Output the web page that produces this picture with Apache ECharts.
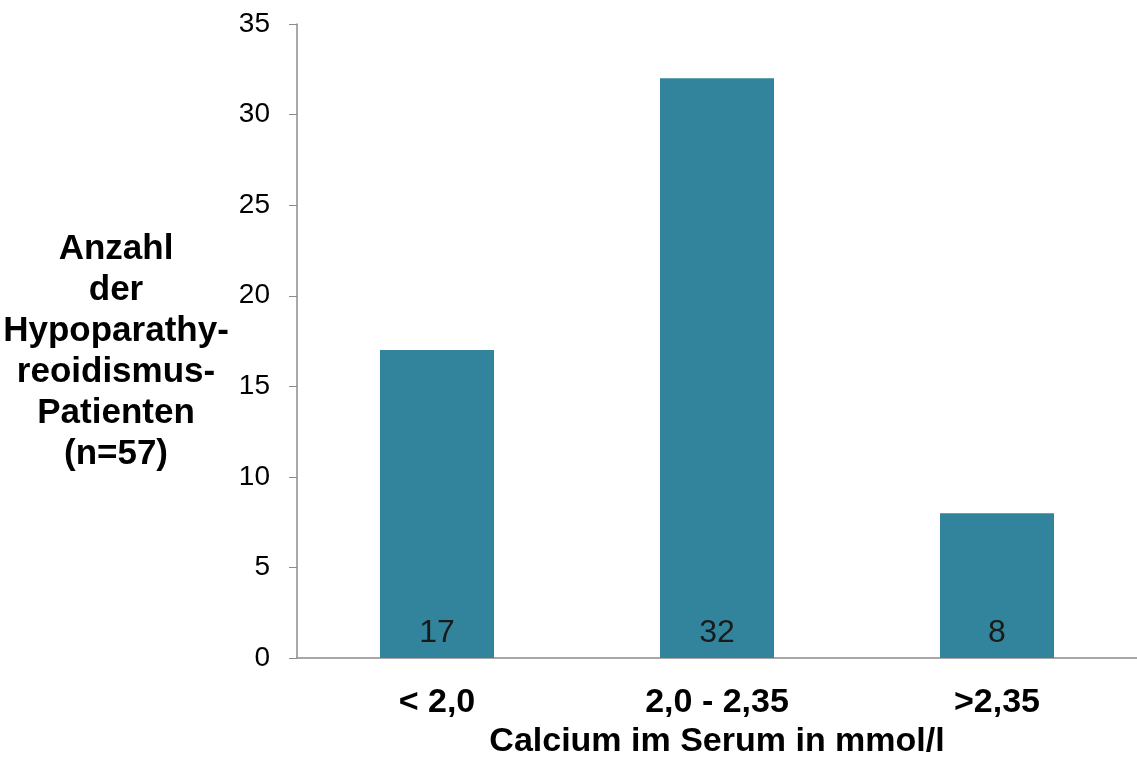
<!DOCTYPE html>
<html>
<head>
<meta charset="utf-8">
<script src="https://cdn.jsdelivr.net/npm/echarts@6/dist/echarts.min.js"></script>
<style>html,body{margin:0;padding:0;background:#fff}#c{width:1137px;height:764px}</style>
</head>
<body>
<div id="c"></div>
<script>
const categories = ['< 2,0', '2,0 - 2,35', '>2,35'];
const values = [17, 32, 8];
const yTicks = [0, 5, 10, 15, 20, 25, 30, 35];
const yTitle = 'Anzahl\nder\nHypoparathy-\nreoidismus-\nPatienten\n(n=57)';
const xTitle = 'Calcium im Serum in mmol/l';

const chart = echarts.init(document.getElementById('c'));
chart.setOption({
  animation: false,
  grid: { left: 297, width: 846, top: 24, bottom: 93 },
  xAxis: {
    type: 'category',
    data: categories,
    axisLine: { lineStyle: { color: '#8c8c8c', width: 1.5 } },
    axisTick: { show: false },
    axisLabel: { color: '#000', fontFamily: 'Liberation Sans, Arial', fontWeight: 'bold', fontSize: 34, margin: 28 },
    name: xTitle,
    nameLocation: 'middle',
    nameGap: 66,
    nameTextStyle: { color: '#000', fontFamily: 'Liberation Sans, Arial', fontWeight: 'bold', fontSize: 34 }
  },
  yAxis: {
    type: 'value',
    min: yTicks[0],
    max: yTicks[yTicks.length - 1],
    interval: 5,
    axisLine: { show: true, lineStyle: { color: '#8c8c8c', width: 1.5 } },
    axisTick: { show: true, length: 8, lineStyle: { color: '#8c8c8c' } },
    splitLine: { show: false },
    axisLabel: { color: '#000', fontFamily: 'Liberation Sans, Arial', fontSize: 28, margin: 27 }
  },
  graphic: [{
    type: 'text',
    x: 116,
    y: 229,
    style: {
      text: yTitle,
      textAlign: 'center',
      fill: '#000',
      font: 'bold 35px "Liberation Sans", Arial',
      lineHeight: 41
    }
  }],
  series: [{
    type: 'bar',
    data: values,
    barWidth: 114,
    itemStyle: { color: '#31849b' },
    label: {
      show: true,
      position: 'insideBottom',
      distance: 9,
      color: '#1a1a1a',
      fontFamily: 'Liberation Sans, Arial',
      fontSize: 32
    }
  }]
});
</script>
</body>
</html>
